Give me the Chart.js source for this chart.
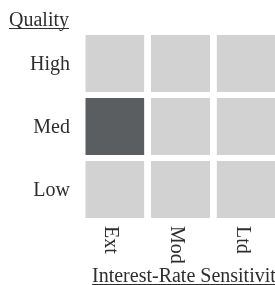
<!DOCTYPE html>
<html>
<head>
<meta charset="utf-8">
<script src="https://cdn.jsdelivr.net/npm/chart.js@4.4.0/dist/chart.umd.min.js"></script>
<style>
    html, body { margin: 0; padding: 0; background: #fff; overflow: hidden; }
    #styleBox { display: block; }
</style>
</head>
<body>
<canvas id="styleBox" width="300" height="285"></canvas>
<script>
// === Style box data ===
const sensitivity = ['Ext', 'Mod', 'Ltd'];
const quality = ['High', 'Med', 'Low'];
// 1 = fund sits in this cell (rows follow quality, columns follow sensitivity)
const holdings = [
    [0, 0, 0],
    [1, 0, 0],
    [0, 0, 0],
];
const xTitle = 'Interest-Rate Sensitivity';
const yTitle = 'Quality';

const FONT = '20px "Liberation Serif", "Times New Roman", serif';
const TEXT = '#2e2e2e';
const LIGHT = '#d3d2d3';
const DARK = '#5a5e61';

// bottom row first so the stack builds upwards
const datasets = quality.slice().reverse().map((q) => {
    const row = holdings[quality.indexOf(q)];
    return {
        label: q,
        data: sensitivity.map(() => 1),
        backgroundColor: row.map(v => v ? DARK : LIGHT),
        borderColor: '#fff',
        borderWidth: { top: 3, bottom: 3, left: 0, right: 0 },
        borderSkipped: false,
        categoryPercentage: 1,
        barPercentage: 0.9,
    };
});

function underline(ctx, text, x, y) {
    const w = ctx.measureText(text).width;
    ctx.fillRect(x, y, w, 1);
}

const labelsPlugin = {
    id: 'boxLabels',
    afterDraw(chart) {
        const { ctx, scales: { x, y } } = chart;
        ctx.save();
        ctx.font = FONT;
        ctx.fillStyle = TEXT;

        // row labels
        ctx.textAlign = 'right';
        ctx.textBaseline = 'alphabetic';
        quality.forEach((q, i) => {
            const yc = y.getPixelForValue(quality.length - i - 0.5);
            ctx.fillText(q, 70, yc + 6);
        });

        // column labels, turned clockwise
        ctx.textAlign = 'left';
        sensitivity.forEach((s, i) => {
            const xc = x.getPixelForValue(i);
            ctx.save();
            ctx.translate(xc - 9.5, 226);
            ctx.rotate(Math.PI / 2);
            ctx.fillText(s, 0, 0);
            ctx.restore();
        });

        // axis titles, underlined
        ctx.fillText(yTitle, 9, 26);
        underline(ctx, yTitle, 9, 28);
        ctx.fillText(xTitle, 92, 282);
        underline(ctx, xTitle, 92, 284);
        ctx.restore();
    }
};

new Chart(document.getElementById('styleBox'), {
    type: 'bar',
    data: { labels: sensitivity, datasets },
    options: {
        responsive: false,
        animation: false,
        devicePixelRatio: 1,
        layout: { padding: { left: 82, top: 32, right: 21, bottom: 64 } },
        plugins: {
            legend: { display: false },
            tooltip: { enabled: false },
        },
        scales: {
            x: { stacked: true, display: false },
            y: { stacked: true, display: false, min: 0, max: 3 },
        },
    },
    plugins: [labelsPlugin],
});
</script>
</body>
</html>
